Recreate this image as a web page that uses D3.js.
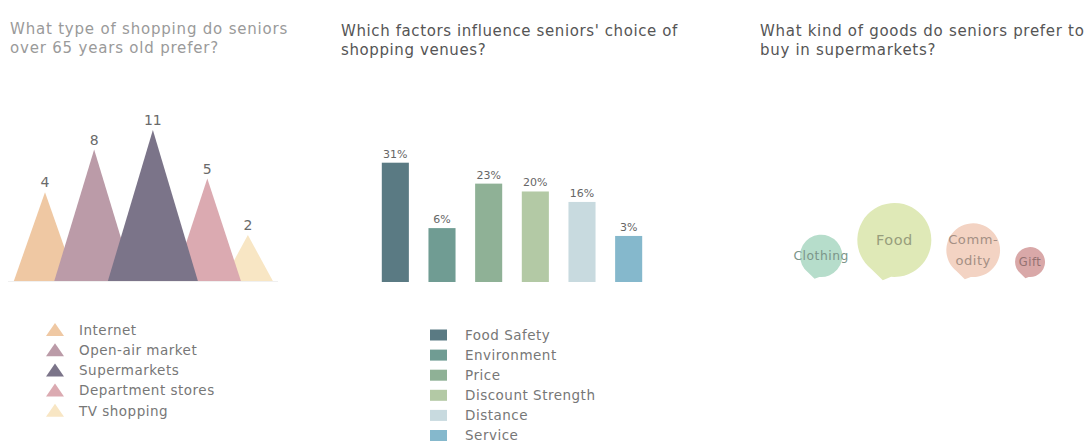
<!DOCTYPE html>
<html>
<head>
<meta charset="utf-8">
<script src="https://cdn.jsdelivr.net/npm/d3@7"></script>
<style>
  html, body { margin: 0; padding: 0; background: #fff; }
  svg { display: block; }
  text { font-family: "DejaVu Sans", "Open Sans", sans-serif; }
</style>
</head>
<body>
<svg id="chart" width="1089" height="442"></svg>
<script>
// ---------- DATA ----------
const titles = [
  ["What type of shopping do seniors", "over 65 years old prefer?"],
  ["Which factors influence seniors' choice of", "shopping venues?"],
  ["What kind of goods do seniors prefer to", "buy in supermarkets?"]
];

const triCategories = ["Internet", "Open-air market", "Supermarkets", "Department stores", "TV shopping"];
const triValues = [4, 8, 11, 5, 2];
const triColors = ["#efc8a3", "#bb9ba8", "#7b7489", "#dbaab1", "#f8e6c4"];

const barCategories = ["Food Safety", "Environment", "Price", "Discount Strength", "Distance", "Service"];
const barValues = [31, 6, 23, 20, 16, 3];
const barLabels = ["31%", "6%", "23%", "20%", "16%", "3%"];
const barColors = ["#5a7a83", "#709c93", "#8fb196", "#b3c9a5", "#c8dadf", "#85b8cc"];

const bubbleCategories = ["Clothing", "Food", "Commodity", "Gift"];
const bubbleLabels = [["Clothing"], ["Food"], ["Comm-", "odity"], ["Gift"]];
const bubbleValues = [18, 55, 29, 9];
const bubbleColors = ["#b6ddcb", "#dfe9b7", "#f3d3c3", "#d9a8a8"];

// ---------- DRAW ----------
const svg = d3.select("#chart");

// Titles
const titleCfg = [
  {x: 10, y: 34, size: 15, ls: 0.8, color: "#9a9a9a"},
  {x: 341, y: 36, size: 15, ls: 0.6, color: "#555"},
  {x: 760, y: 36, size: 15, ls: 0.7, color: "#555"}
];
titles.forEach((lines, i) => {
  const c = titleCfg[i];
  const t = svg.append("text").attr("x", c.x).attr("y", c.y)
    .attr("font-size", c.size).attr("letter-spacing", c.ls).attr("fill", c.color);
  lines.forEach((l, j) => t.append("tspan").attr("x", c.x).attr("dy", j === 0 ? 0 : 19).text(l));
});

// ---- Panel 1: triangles ----
const triBase = 281;
const triY = d3.scaleLog().domain([2, 11]).range([235, 130]);
const triHalf = d3.scaleSqrt().domain([2, 11]).range([25, 45]);
const overlap = 0.692;
const triCx = [];
triValues.forEach((v, i) => {
  if (i === 0) triCx.push(45);
  else triCx.push(triCx[i - 1] + overlap * (triHalf(triValues[i - 1]) + triHalf(v)));
});
const triData = triValues.map((v, i) => ({v, i, cx: triCx[i], hw: triHalf(v), top: triY(v)}));

svg.append("line").attr("x1", 8).attr("x2", 278).attr("y1", triBase + 0.5).attr("y2", triBase + 0.5)
  .attr("stroke", "#f0f0f0").attr("stroke-width", 1);

const triG = svg.append("g");
triG.selectAll("path")
  .data(triData.slice().sort((a, b) => a.v - b.v))
  .join("path")
  .attr("d", d => `M${d.cx - d.hw},${triBase}L${d.cx},${d.top}L${d.cx + d.hw},${triBase}Z`)
  .attr("fill", d => triColors[d.i]);

triG.selectAll("text")
  .data(triData)
  .join("text")
  .attr("x", d => d.cx)
  .attr("y", d => d.top - 5)
  .attr("text-anchor", "middle")
  .attr("font-family", "Liberation Serif, serif")
  .attr("font-size", 14)
  .attr("fill", "#6a6a6a")
  .text(d => d.v);

// Legend 1
const leg1 = svg.append("g").attr("transform", "translate(55,330)");
const leg1Rows = leg1.selectAll("g").data(triCategories).join("g")
  .attr("transform", (d, i) => `translate(0,${i * 20.2})`);
leg1Rows.append("path").attr("d", "M-9,6L0,-7L9,6Z").attr("fill", (d, i) => triColors[i]);
leg1Rows.append("text").attr("x", 24).attr("y", 0).attr("dy", "0.35em")
  .attr("font-size", 13.5).attr("letter-spacing", 0.5).attr("fill", "#777").text(d => d);

// ---- Panel 2: bars ----
const barBase = 282;
const xBar = d3.scaleBand().domain(barCategories).range([372, 652]).paddingInner(0.42).paddingOuter(0.21);
const yBar = d3.scaleLinear().domain([-14.6, 31]).range([barBase, 162.7]);

svg.append("g").selectAll("rect")
  .data(barValues)
  .join("rect")
  .attr("x", (d, i) => xBar(barCategories[i]))
  .attr("width", xBar.bandwidth())
  .attr("y", d => yBar(d))
  .attr("height", d => barBase - yBar(d))
  .attr("fill", (d, i) => barColors[i]);

svg.append("g").selectAll("text")
  .data(barValues)
  .join("text")
  .attr("x", (d, i) => xBar(barCategories[i]) + xBar.bandwidth() / 2)
  .attr("y", d => yBar(d) - 5)
  .attr("text-anchor", "middle")
  .attr("font-family", "Liberation Serif, serif")
  .attr("font-size", 11)
  .attr("fill", "#666")
  .text((d, i) => barLabels[i]);

// Legend 2
const leg2 = svg.append("g").attr("transform", "translate(430,335)");
const leg2Rows = leg2.selectAll("g").data(barCategories).join("g")
  .attr("transform", (d, i) => `translate(0,${i * 20.1})`);
leg2Rows.append("rect").attr("x", 0).attr("y", -5.5).attr("width", 17).attr("height", 11)
  .attr("fill", (d, i) => barColors[i]);
leg2Rows.append("text").attr("x", 35).attr("y", 0).attr("dy", "0.35em")
  .attr("font-size", 13.5).attr("letter-spacing", 0.5).attr("fill", "#777").text(d => d);

// ---- Panel 3: speech bubbles ----
const rScale = d3.scaleSqrt().domain([0, d3.max(bubbleValues)]).range([0, 37]);
const bubbleBottom = 277;
const gap = 15;
const fontScale = d3.scaleLinear().domain([15, 37]).range([11.5, 14.5]);
let cursor = 800;
const bubbles = bubbleValues.map((v, i) => {
  const r = rScale(v);
  const cx = cursor + r;
  cursor += 2 * r + gap;
  return {i, r, cx, cy: bubbleBottom - r};
});

function bubblePath(d) {
  const a1 = 95 * Math.PI / 180, a2 = 128 * Math.PI / 180, at = 106 * Math.PI / 180;
  const p1 = [d.cx + d.r * Math.cos(a1), d.cy + d.r * Math.sin(a1)];
  const tip = [d.cx + d.r * 1.13 * Math.cos(at), d.cy + d.r * 1.13 * Math.sin(at)];
  const p = d3.path();
  p.moveTo(p1[0], p1[1]);
  p.arc(d.cx, d.cy, d.r, a1, a2, true);
  p.lineTo(tip[0], tip[1]);
  p.closePath();
  return p.toString();
}

const bg = svg.append("g").selectAll("g").data(bubbles).join("g");
bg.append("path").attr("d", bubblePath).attr("fill", d => bubbleColors[d.i]);
bg.each(function(d) {
  const lines = bubbleLabels[d.i];
  const fs = fontScale(d.r);
  const lh = fs * 1.6;
  const t = d3.select(this).append("text")
    .attr("text-anchor", "middle")
    .attr("font-size", fs)
    .attr("letter-spacing", 0.5)
    .attr("fill", d3.color(bubbleColors[d.i]).darker(1.1));
  lines.forEach((l, j) => {
    t.append("tspan").attr("x", d.cx)
      .attr("y", d.cy + (j - (lines.length - 1) / 2) * lh)
      .attr("dy", "0.35em").text(l);
  });
});
</script>
</body>
</html>
